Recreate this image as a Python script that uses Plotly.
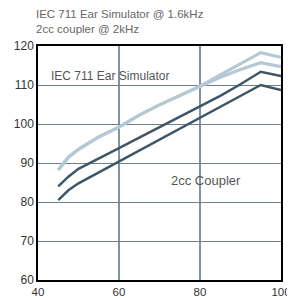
import plotly.graph_objects as go

x_vals = [45, 47.5, 50, 52.5, 55, 60, 65, 70, 75, 80, 85, 90, 95, 100]
iec_high = [88.2, 91.5, 93.5, 95.2, 96.7, 99.2, 102.3, 104.9, 107.3, 109.7, 112.6, 115.5, 118.3, 117.1]
iec_low = [88.2, 91.5, 93.5, 95.2, 96.7, 99.2, 102.3, 104.9, 107.3, 109.5, 112.0, 114.0, 115.7, 114.7]
cpl_high = [84.0, 86.5, 88.5, 89.8, 91.0, 93.8, 96.5, 99.2, 101.8, 104.4, 107.2, 110.2, 113.4, 112.3]
cpl_low = [80.5, 83.0, 84.8, 86.2, 87.5, 90.2, 93.0, 95.8, 98.6, 101.4, 104.2, 107.1, 110.0, 108.7]

title_lines = ["IEC 711 Ear Simulator @ 1.6kHz", "2cc coupler @ 2kHz"]

light = "#b5c9d5"
dark = "#3f5666"

fig = go.Figure()
for ys, col, w in [(iec_high, light, 3.2), (iec_low, light, 3.2), (cpl_high, dark, 2.5), (cpl_low, dark, 2.5)]:
    fig.add_trace(go.Scatter(x=x_vals, y=ys, mode="lines",
                             line=dict(color=col, width=w), showlegend=False, hoverinfo="skip"))

fig.add_annotation(x=42.7, y=112.2, text="IEC 711 Ear Simulator", showarrow=False,
                   xanchor="left", yanchor="middle", font=dict(size=12, color="#555555"))
fig.add_annotation(x=72.3, y=85.6, text="2cc Coupler", showarrow=False,
                   xanchor="left", yanchor="middle", font=dict(size=13, color="#555555"))
fig.add_annotation(x=-0.015, xref="paper", y=1.105, yref="paper", text="<br>".join(title_lines),
                   showarrow=False, xanchor="left", yanchor="middle", align="left",
                   font=dict(size=11.5, color="#666666"))

fig.update_layout(
    width=295, height=302,
    margin=dict(l=30, r=18, t=38, b=30),
    paper_bgcolor="white", plot_bgcolor="white",
    font=dict(family="Liberation Sans, Arial, sans-serif", color="#333333"),
)
fig.update_xaxes(range=[40, 100], tickvals=[40, 60, 80, 100], showgrid=True, automargin=True,
                 gridcolor="#8293a0", gridwidth=1.5, showline=True, linecolor="black",
                 linewidth=1.5, mirror=True, ticks="", tickfont=dict(size=11.5), zeroline=False)
fig.update_yaxes(range=[60, 120], tickvals=[60, 70, 80, 90, 100, 110, 120], showgrid=True, automargin=False,
                 gridcolor="#6f808d", gridwidth=1.2, showline=True, linecolor="black",
                 linewidth=1.5, mirror=True, ticks="", tickfont=dict(size=12), zeroline=False)

fig.write_html("out.html")
